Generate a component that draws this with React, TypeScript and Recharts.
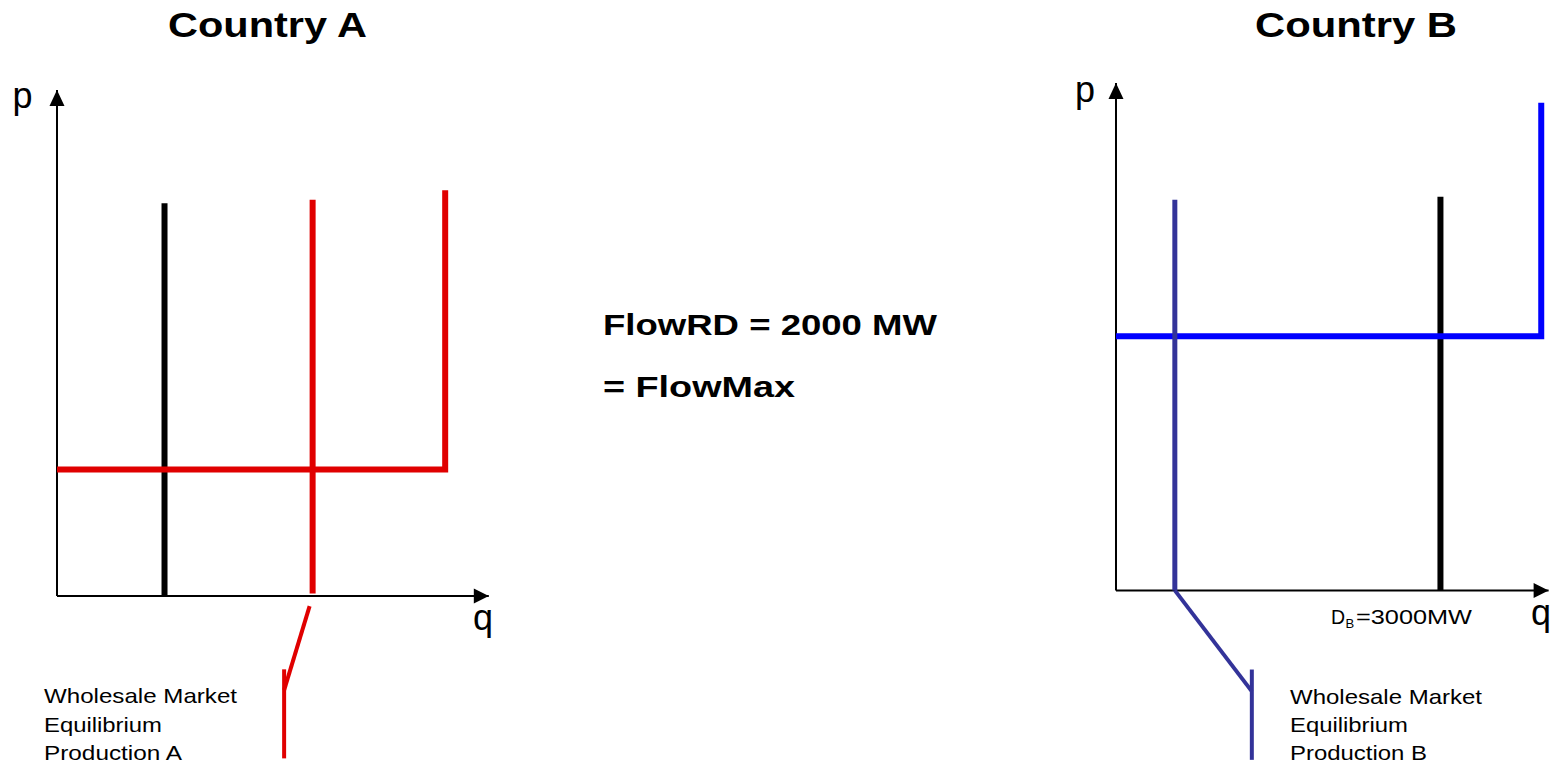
import { LineChart, Line, XAxis, YAxis } from 'recharts';

// units: q and p run 0..100 from the origin to the arrow tip of each axis
const axisQ = [{ q: 0, p: 0 }, { q: 100, p: 0 }];
const axisP = [{ q: 0, p: 0 }, { q: 0, p: 100 }];

// Country A
const demandA = [{ q: 24.9, p: 0 }, { q: 24.9, p: 77.6 }];
const productionA = [{ q: 59.2, p: 0.5 }, { q: 59.2, p: 78.3 }];
const supplyA = [{ q: 0, p: 25 }, { q: 89.9, p: 25 }, { q: 89.9, p: 80.2 }];
const pointerA = [{ q: 58.5, p: -2 }, { q: 52.6, p: -18.6 }];
const stemA = [{ q: 52.6, p: -14.5 }, { q: 52.6, p: -32.1 }];

// Country B
const demandB = [{ q: 75, p: 0 }, { q: 75, p: 77.6 }];
const productionB = [{ q: 13.6, p: 0 }, { q: 13.6, p: 77 }];
const supplyB = [{ q: 0, p: 50.1 }, { q: 98.3, p: 50.1 }, { q: 98.3, p: 96.1 }];
const pointerB = [{ q: 13.6, p: 0 }, { q: 31.4, p: -19.9 }];
const stemB = [{ q: 31.4, p: -15.6 }, { q: 31.4, p: -33.4 }];

const calloutLines = ['Wholesale Market', 'Equilibrium'];

const FONT = '"Liberation Sans", Arial, Helvetica, sans-serif';
const M = 20;

const arrowDot = (dir: 'up' | 'right') => (props: any) => {
  const { cx, cy, index, key } = props;
  if (index !== 1) return <g key={key ?? index} />;
  const pts = dir === 'up'
    ? `${cx},${cy} ${cx - 7.5},${cy + 16} ${cx + 7.5},${cy + 16}`
    : `${cx},${cy} ${cx - 15},${cy - 7.5} ${cx - 15},${cy + 7.5}`;
  return <polygon key={key ?? index} points={pts} fill="#000" />;
};

type Seg = { data: { q: number; p: number }[]; color: string; width: number };

function Panel({ left, top, w, h, pMin, segs }: { left: number; top: number; w: number; h: number; pMin: number; segs: Seg[] }) {
  return (
    <div style={{ position: 'absolute', left: left - M, top: top - M }}>
      <LineChart width={w + 2 * M} height={h + 2 * M} margin={{ top: M, right: M, bottom: M, left: M }}>
        <XAxis type="number" dataKey="q" domain={[0, 100]} hide />
        <YAxis type="number" dataKey="p" domain={[pMin, 100]} hide />
        <Line data={axisQ} dataKey="p" type="linear" stroke="#000" strokeWidth={2} dot={arrowDot('right')} activeDot={false} isAnimationActive={false} />
        <Line data={axisP} dataKey="p" type="linear" stroke="#000" strokeWidth={2} dot={arrowDot('up')} activeDot={false} isAnimationActive={false} />
        {segs.map((s, i) => (
          <Line key={i} data={s.data} dataKey="p" type="linear" stroke={s.color} strokeWidth={s.width} dot={false} activeDot={false} isAnimationActive={false} />
        ))}
      </LineChart>
    </div>
  );
}

export default function App() {
  const RED = '#e00000';
  const BLUE = '#0000ff';
  const NAVY = '#333399';
  return (
    <div style={{ position: 'absolute', left: 0, top: 0, width: 1558, height: 766, background: '#fff', overflow: 'hidden' }}>
      <Panel
        left={56.5} top={90} w={431.8} h={678} pMin={-34}
        segs={[
          { data: demandA, color: '#000', width: 6 },
          { data: supplyA, color: RED, width: 6 },
          { data: productionA, color: RED, width: 6 },
          { data: pointerA, color: RED, width: 4 },
          { data: stemA, color: RED, width: 4 },
        ]}
      />
      <Panel
        left={1115.7} top={83.3} w={432.6} h={679.9} pMin={-34}
        segs={[
          { data: demandB, color: '#000', width: 6 },
          { data: supplyB, color: BLUE, width: 6 },
          { data: productionB, color: NAVY, width: 5 },
          { data: pointerB, color: NAVY, width: 4 },
          { data: stemB, color: NAVY, width: 4 },
        ]}
      />
      <svg width={1558} height={766} style={{ position: 'absolute', left: 0, top: 0, pointerEvents: 'none' }} fontFamily={FONT}>
        <text x={168} y={36.5} fontSize={35} fontWeight="bold" textLength={199} lengthAdjust="spacingAndGlyphs">Country A</text>
        <text x={1255} y={36.5} fontSize={35} fontWeight="bold" textLength={202} lengthAdjust="spacingAndGlyphs">Country B</text>
        <text x={12.5} y={108} fontSize={36}>p</text>
        <text x={473} y={630} fontSize={36}>q</text>
        <text x={1075} y={102} fontSize={36}>p</text>
        <text x={1531} y={625} fontSize={36}>q</text>
        <text x={603} y={335} fontSize={30} fontWeight="bold" textLength={334} lengthAdjust="spacingAndGlyphs">FlowRD = 2000 MW</text>
        <text x={603} y={397} fontSize={30} fontWeight="bold" textLength={192} lengthAdjust="spacingAndGlyphs">= FlowMax</text>
        <text x={1331} y={624} fontSize={19.5}>D</text>
        <text x={1345.5} y={628} fontSize={13}>B</text>
        <text x={1356} y={624} fontSize={19.5} textLength={116} lengthAdjust="spacingAndGlyphs">=3000MW</text>
        {[...calloutLines, 'Production A'].map((t, i) => (
          <text key={'a' + i} x={44} y={703 + i * 28.5} fontSize={21} textLength={[193, 118, 138][i]} lengthAdjust="spacingAndGlyphs">{t}</text>
        ))}
        {[...calloutLines, 'Production B'].map((t, i) => (
          <text key={'b' + i} x={1290} y={703.5 + i * 28.3} fontSize={21} textLength={[192, 118, 137][i]} lengthAdjust="spacingAndGlyphs">{t}</text>
        ))}
      </svg>
    </div>
  );
}
